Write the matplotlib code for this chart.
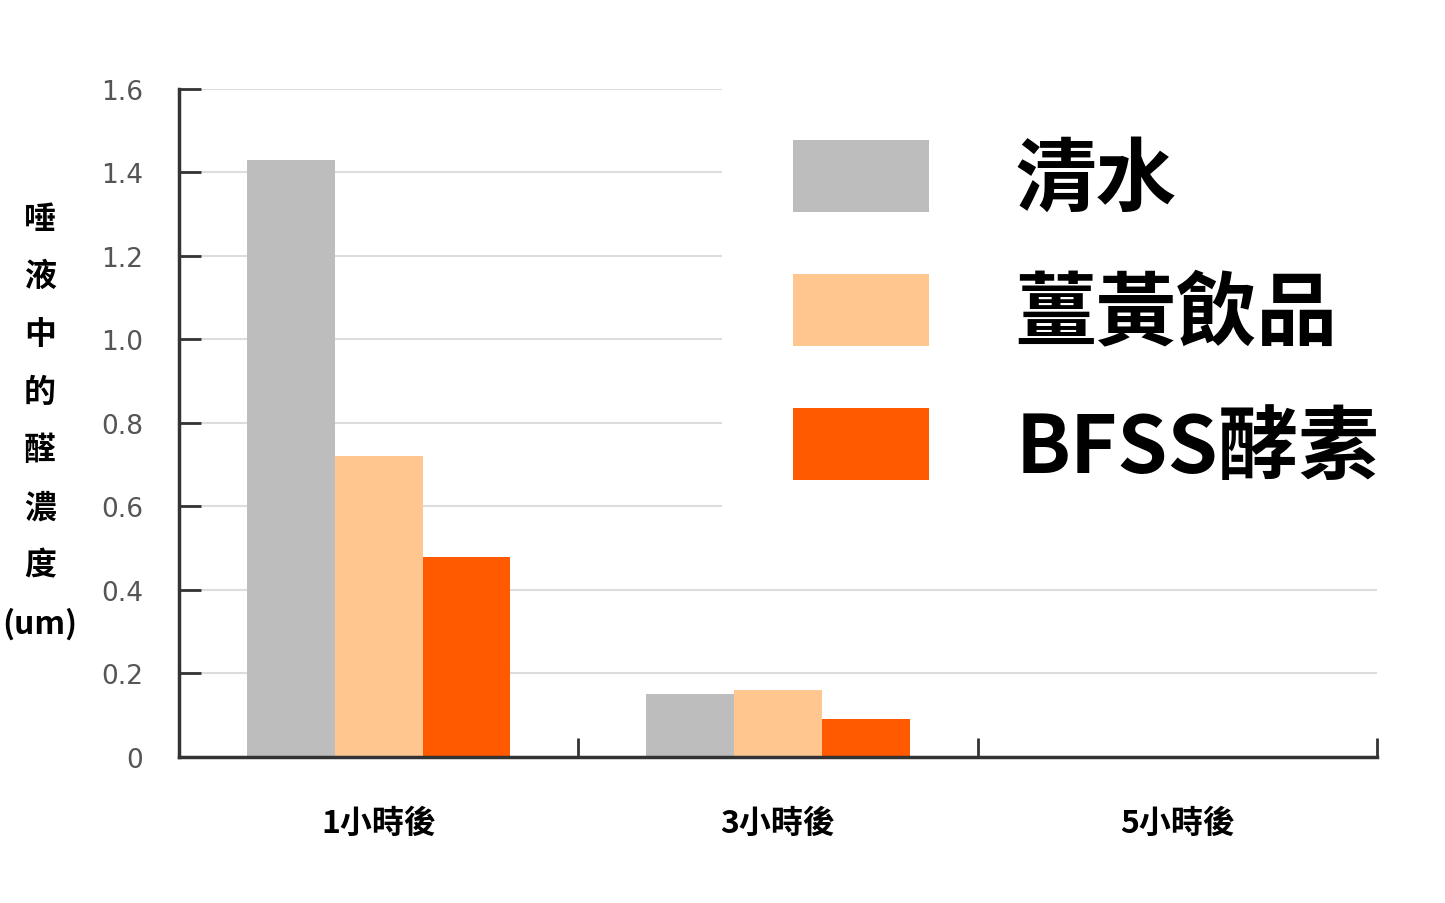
import numpy as np
import matplotlib
matplotlib.use('Agg')
import matplotlib.pyplot as plt
from matplotlib.patches import Patch, Rectangle

plt.rcParams['font.family'] = ['Noto Sans CJK TC', 'DejaVu Sans']

# data
times = ['1小時後', '3小時後', '5小時後']
series = ['清水', '薑黃飲品', 'BFSS酵素']
water = [1.43, 0.15, 0.0]
turmeric = [0.72, 0.16, 0.0]
bfss = [0.48, 0.09, 0.0]
yticks = [0, 0.2, 0.4, 0.6, 0.8, 1.0, 1.2, 1.4, 1.6]
ytick_labels = ['0', '0.2', '0.4', '0.6', '0.8', '1.0', '1.2', '1.4', '1.6']
colors = ['#bdbdbd', '#ffc690', '#ff5a00']

fig = plt.figure(figsize=(14.45, 9.04), dpi=100)
ax = fig.add_axes([0.1239, 0.1615, 0.829, 0.739])

x = np.arange(len(times))
w = 0.22
for i, vals in enumerate([water, turmeric, bfss]):
    ax.bar(x + (i - 1) * w, vals, w, color=colors[i], edgecolor='none', zorder=2)

ax.set_xlim(-0.5, 2.5)
ax.set_ylim(0, 1.6)

ax.set_yticks(yticks)
ax.set_yticklabels(ytick_labels, family=['Liberation Sans Narrow', 'DejaVu Sans'],
                   fontsize=19, color='#555555')
ax.tick_params(axis='y', direction='in', length=16, width=2, color='#333333', pad=26)
ax.set_axisbelow(True)
ax.yaxis.grid(True, color='#dddddd', lw=1.5)

ax.set_xticks([0.5, 1.5, 2.5])
ax.set_xticklabels([])
ax.tick_params(axis='x', which='major', direction='in', length=14, width=2, color='#333333')
ax.set_xticks(x, minor=True)
ax.set_xticklabels(times, minor=True, fontsize=23, fontweight='bold')
ax.tick_params(axis='x', which='minor', length=0, pad=36)

for s in ['top', 'right']:
    ax.spines[s].set_visible(False)
for s in ['left', 'bottom']:
    ax.spines[s].set_color('#333333')
    ax.spines[s].set_linewidth(2.5)

# white panel behind the legend hides the upper grid lines on the right
ax.add_patch(Rectangle((0.453, 0.349), 0.7, 0.8, transform=ax.transAxes,
                       facecolor='white', edgecolor='none', zorder=1.8, clip_on=False))

handles = [Patch(facecolor=c, edgecolor='none') for c in colors]
leg = ax.legend(handles, series, loc='upper left', bbox_to_anchor=(0.455, 0.0, 0.65, 1.027),
                mode='expand', prop={'weight': 'bold', 'size': 58},
                handlelength=1.7, handleheight=1.0, handletextpad=1.07,
                labelspacing=0.66, borderpad=0.85, borderaxespad=0,
                frameon=False)
leg.set_zorder(5)

fig.text(40 / 1445, 0.533, '唾\n液\n中\n的\n醛\n濃\n度\n(um)', ha='center', va='center',
         fontsize=23, fontweight='bold', linespacing=2.03)

fig.savefig('out.png', dpi=100, facecolor='white')
